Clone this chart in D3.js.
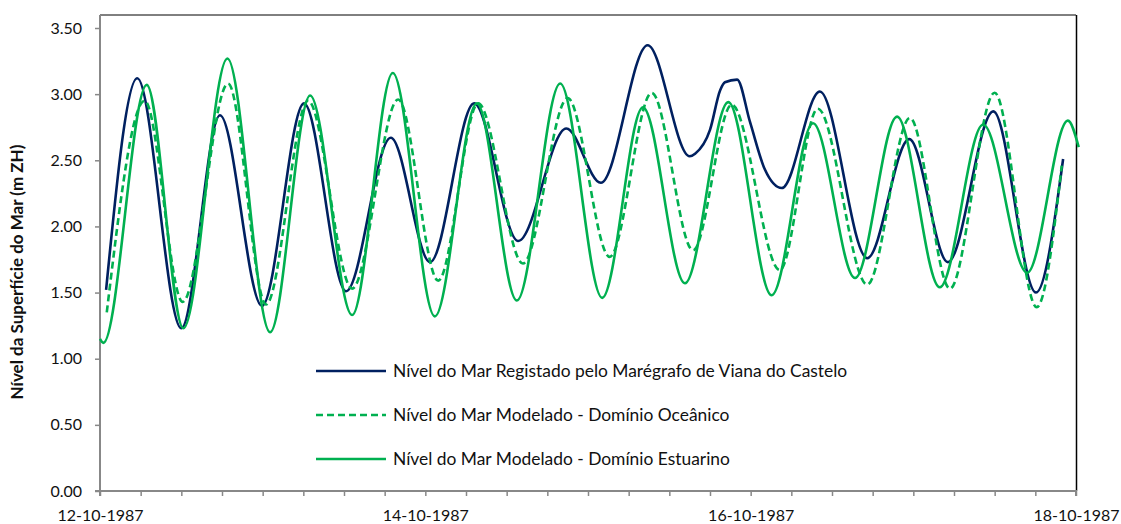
<!DOCTYPE html>
<html>
<head>
<meta charset="utf-8">
<script src="https://cdn.jsdelivr.net/npm/d3@7"></script>
<style>
  html, body { margin: 0; padding: 0; background: #fff; }
  svg { display: block; font-family: Lato, "Open Sans", sans-serif; }
</style>
</head>
<body>
<svg id="chart" width="1121" height="524"></svg>
<script>
// ---- Data (hours since 12-10-1987 00:00, sea level in m ZH) ----
const observedHours = [0.9, 5.5, 12.0, 17.7, 23.9, 30.1, 36.3, 42.9, 48.7, 55.2, 61.7, 68.8, 73.9, 80.8, 87.0, 87.8, 90.0, 91.5, 92.2, 94.0, 95.9, 98.1, 100.6, 106.2, 113.2, 119.4, 125.1, 131.8, 138.1, 142.1];
const observedLevel = [1.52, 3.12, 1.23, 2.84, 1.40, 2.93, 1.51, 2.67, 1.73, 2.93, 1.89, 2.74, 2.33, 3.37, 2.53, 2.55, 2.73, 3.03, 3.09, 3.11, 2.79, 2.43, 2.29, 3.02, 1.76, 2.66, 1.73, 2.87, 1.50, 2.51];

const oceanicHours = [1.0, 6.6, 12.2, 18.9, 24.5, 30.7, 37.2, 44.0, 49.9, 55.8, 62.4, 69.0, 75.2, 81.4, 87.5, 93.2, 100.3, 105.9, 113.2, 119.5, 125.4, 132.0, 138.2, 141.9];
const oceanicLevel = [1.35, 2.95, 1.43, 3.08, 1.41, 2.95, 1.53, 2.96, 1.59, 2.93, 1.72, 2.97, 1.77, 3.01, 1.82, 2.92, 1.67, 2.89, 1.56, 2.82, 1.53, 3.01, 1.39, 2.46];

const estuarineHours = [0.0, 0.5, 6.9, 12.3, 18.8, 25.1, 31.0, 37.2, 43.2, 49.4, 55.6, 61.5, 67.9, 74.1, 80.1, 86.3, 92.7, 99.1, 105.2, 111.4, 117.6, 123.9, 130.3, 136.8, 142.8, 144.4];
const estuarineLevel = [1.15, 1.12, 3.07, 1.23, 3.27, 1.20, 2.99, 1.33, 3.16, 1.32, 2.93, 1.44, 3.08, 1.46, 2.90, 1.57, 2.94, 1.48, 2.78, 1.61, 2.83, 1.54, 2.77, 1.65, 2.80, 2.60];

const seriesNames = [
  "Nível do Mar Registado pelo Marégrafo de Viana do Castelo",
  "Nível do Mar Modelado - Domínio Oceânico",
  "Nível do Mar Modelado - Domínio Estuarino"
];
const yTickValues = [0, 0.5, 1.0, 1.5, 2.0, 2.5, 3.0, 3.5];
const xLabelDays = ["12-10-1987", "14-10-1987", "16-10-1987", "18-10-1987"];
const yTitle = "Nível da Superfície do Mar (m ZH)";

// ---- Setup ----
const svg = d3.select("#chart");
const plot = { left: 100, right: 1076, top: 15, bottom: 491 };
const start = new Date(1987, 9, 12, 0, 0);
const end = new Date(1987, 9, 18, 0, 0);
const toDate = h => new Date(start.getTime() + h * 3600e3);

const x = d3.scaleTime().domain([start, end]).range([plot.left, plot.right]);
const y = d3.scaleLinear().domain([0, 3.5]).range([plot.bottom, 28]);

const fmtDay = d3.timeFormat("%d-%m-%Y");

// frame top/right
svg.append("line").attr("x1", plot.left).attr("x2", plot.right)
  .attr("y1", plot.top).attr("y2", plot.top)
  .attr("stroke", "#000").attr("stroke-width", 1);
svg.append("line").attr("x1", plot.right + 0.5).attr("x2", plot.right + 0.5)
  .attr("y1", plot.top).attr("y2", plot.bottom)
  .attr("stroke", "#000").attr("stroke-width", 1.5);

// axes
const xTicks = d3.timeHour.every(6).range(start, d3.timeHour.offset(end, 1));
const xAxis = d3.axisBottom(x).tickValues(xTicks).tickSize(5).tickPadding(10)
  .tickFormat(d => {
    const s = fmtDay(d);
    return (d.getHours() === 0 && xLabelDays.includes(s)) ? s : "";
  });
const gx = svg.append("g").attr("transform", `translate(0,${plot.bottom})`).call(xAxis);

const yAxis = d3.axisLeft(y).tickValues(yTickValues).tickSize(5).tickPadding(13)
  .tickFormat(d3.format(".2f"));
const gy = svg.append("g").attr("transform", `translate(${plot.left},0)`).call(yAxis);

[gx, gy].forEach(g => {
  g.select(".domain").attr("stroke", "#888").attr("stroke-width", 2);
  g.selectAll(".tick line").attr("stroke", "#888").attr("stroke-width", 1.5);
  g.selectAll(".tick text").attr("fill", "#111").style("font-size", "16px")
    .style("font-family", "Lato, 'Open Sans', sans-serif");
});
gy.select(".domain").attr("d", `M-5,${plot.bottom}H0V${plot.top}`);
gx.select(".domain").attr("d", `M${plot.left},5V0H${plot.right}V5`);
gx.selectAll(".tick text").attr("dy", "0.95em");

// y title
svg.append("text")
  .attr("transform", `translate(23,${(plot.top + plot.bottom) / 2 + 19}) rotate(-90)`)
  .attr("text-anchor", "middle")
  .style("font-size", "17px").style("font-weight", "bold").attr("fill", "#111")
  .text(yTitle);

// lines
const line = d3.line().x(d => x(d.t)).y(d => y(d.v)).curve(d3.curveMonotoneX);
const mk = (hs, vs) => hs.map((h, i) => ({ t: toDate(h), v: vs[i] }));
const series = [
  { data: mk(observedHours, observedLevel), color: "#002060", dash: null },
  { data: mk(oceanicHours, oceanicLevel), color: "#00B050", dash: "7,4" },
  { data: mk(estuarineHours, estuarineLevel), color: "#00B050", dash: null }
];
series.forEach(s => {
  svg.append("path").datum(s.data).attr("d", line)
    .attr("fill", "none").attr("stroke", s.color).attr("stroke-width", 2.6)
    .attr("stroke-dasharray", s.dash).attr("stroke-linejoin", "round");
});

// legend
const legendY = [371, 415, 459];
series.forEach((s, i) => {
  svg.append("line").attr("x1", 316).attr("x2", 386)
    .attr("y1", legendY[i]).attr("y2", legendY[i])
    .attr("stroke", s.color).attr("stroke-width", 2.6).attr("stroke-dasharray", s.dash);
  svg.append("text").attr("x", 393).attr("y", legendY[i]).attr("dy", "0.36em")
    .style("font-size", "17.4px").attr("fill", "#111").text(seriesNames[i]);
});
</script>
</body>
</html>
